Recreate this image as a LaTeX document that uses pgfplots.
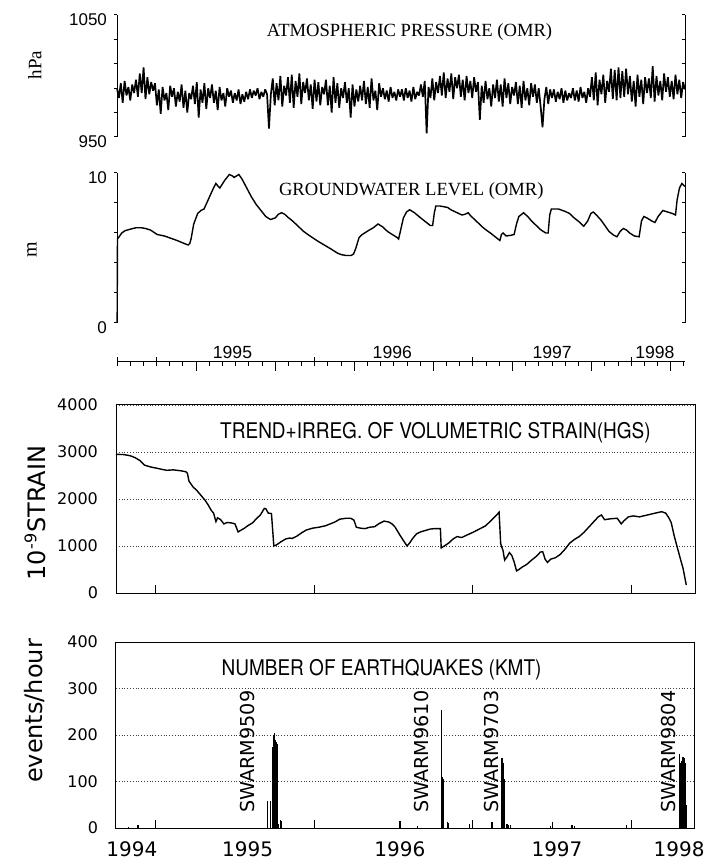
\documentclass[border=0pt]{standalone}
\usepackage{fontspec}
\setmainfont{DejaVu Sans}
\newfontfamily\serifF{Liberation Serif}
\newfontfamily\helvF{Liberation Sans}
\newfontfamily\herosF{TeX Gyre Heros}
\usepackage{graphicx}
\usepackage{pgfplots}
\pgfplotsset{compat=1.18}
\pgfplotsset{
  toppos/.style={anchor=south west, scale only axis, width=284pt, clip=false,
    /pgf/number format/assume math mode=true,
    axis x line=none, tick style={line width=0.5pt, black},
    y axis line style={-, line width=0.5pt}},
  botpos/.style={anchor=south west, scale only axis, width=289.5pt, clip=false,
    /pgf/number format/assume math mode=true,
    xmin=1994.75, xmax=1998.40, xtick={1995,1996,1997,1998}, xticklabels={},
    xtick pos=left, tick align=inside, major tick length=4.2pt,
    tick style={line width=0.5pt, black}, ytick style={draw=none},
    axis line style={line width=0.5pt}, ymajorgrids,
    grid style={densely dotted, line width=0.35pt, black!75},
    yticklabel style={font=\fontsize{8}{9}\selectfont, xshift=-5.5pt}},
}
\newcommand{\condtitle}[1]{\scalebox{0.88}[1]{\herosF\fontsize{10.8}{12}\selectfont #1}}
\begin{document}
\begin{tikzpicture}
\useasboundingbox (0,0) rectangle (353.5pt,432pt);

% ---------------- Panel 1: atmospheric pressure
\begin{axis}[toppos, at={(58.5pt,363.5pt)}, height=61pt,
  xmin=0, xmax=299, ymin=950, ymax=1050, axis y line*=left,
  ytick={950,970,990,1010,1030,1050}, yticklabels={950,,,,,1050},
  tick align=outside, major tick length=1.5pt,
  yticklabel style={font=\helvF\fontsize{8.5}{10}\selectfont, yshift=-2.5pt}]
\addplot[black, line width=0.85pt, line join=bevel] table[x expr=\coordindex, y index=0, header=false, row sep=\\] {
990\\982\\994\\978\\996\\984\\991\\980\\993\\986\\
997\\983\\1002\\986\\1007\\981\\999\\985\\995\\988\\
994\\976\\989\\969\\991\\980\\986\\972\\992\\983\\
990\\975\\987\\979\\993\\974\\988\\970\\986\\981\\
992\\977\\995\\966\\989\\978\\994\\973\\990\\982\\
993\\978\\988\\972\\991\\980\\986\\975\\990\\983\\
988\\978\\986\\980\\989\\977\\985\\979\\987\\981\\
989\\982\\988\\984\\990\\981\\987\\983\\989\\985\\
957\\985\\998\\976\\994\\980\\1000\\975\\992\\984\\
999\\978\\1001\\974\\996\\983\\1002\\977\\995\\986\\
998\\980\\993\\973\\997\\979\\995\\976\\991\\985\\
997\\976\\992\\970\\999\\978\\994\\974\\990\\982\\
995\\978\\990\\966\\993\\975\\989\\979\\992\\980\\
996\\977\\991\\974\\998\\980\\988\\972\\994\\983\\
990\\981\\988\\979\\991\\982\\987\\980\\989\\983\\
989\\980\\990\\982\\988\\979\\991\\981\\987\\984\\
993\\983\\996\\953\\991\\982\\998\\980\\995\\986\\
1000\\984\\1003\\982\\998\\987\\1002\\981\\999\\990\\
1001\\983\\997\\980\\1000\\986\\996\\982\\999\\987\\
995\\964\\992\\978\\996\\981\\990\\975\\993\\982\\
997\\979\\993\\975\\998\\982\\994\\977\\991\\984\\
995\\977\\992\\974\\996\\980\\990\\976\\994\\983\\
993\\978\\990\\975\\958\\981\\991\\977\\989\\982\\
989\\979\\987\\981\\990\\978\\988\\980\\986\\982\\
990\\980\\988\\979\\991\\982\\987\\978\\990\\983\\
999\\980\\1003\\976\\997\\985\\1001\\978\\996\\987\\
1006\\981\\1005\\980\\1007\\982\\1004\\983\\1006\\985\\
1000\\979\\996\\975\\1001\\983\\997\\977\\999\\986\\
998\\982\\1008\\979\\1000\\984\\996\\980\\1002\\987\\
999\\983\\996\\981\\1001\\985\\997\\982\\995\\989\\
};
\node[font=\serifF\fontsize{9.3}{11}\selectfont] at (axis cs:154,1036) {ATMOSPHERIC PRESSURE (OMR)};
\end{axis}
\begin{axis}[toppos, at={(58.5pt,363.5pt)}, height=61pt,
  xmin=0, xmax=299, ymin=950, ymax=1050, axis y line*=right,
  ytick={950,970,990,1010,1030,1050}, yticklabels={},
  tick align=inside, major tick length=1.7pt]
\end{axis}
\node[rotate=90, font=\serifF\fontsize{9.5}{11}\selectfont] at (17.5pt,399.5pt) {hPa};

% ---------------- Panel 2: groundwater level
\begin{axis}[toppos, at={(58.5pt,270.5pt)}, height=75pt,
  xmin=1994.75, xmax=1998.34, ymin=0, ymax=10, axis y line*=left,
  ytick={0,2,4,6,8,10}, yticklabels={0,,,,,10},
  tick align=outside, major tick length=1.5pt,
  yticklabel style={font=\helvF\fontsize{8.5}{10}\selectfont, yshift=-2.5pt}]
\addplot[black, line width=0.7pt] coordinates {
(1994.751,0)(1994.753,5.6)(1994.76,5.7)(1994.78,6.0)(1994.80,6.15)(1994.833,6.25)(1994.87,6.35)(1994.904,6.35)(1994.93,6.3)(1994.961,6.2)(1995.004,5.9)(1995.05,5.8)(1995.09,5.65)(1995.13,5.5)(1995.175,5.3)(1995.20,5.2)(1995.21,5.3)(1995.218,5.6)(1995.235,6.6)(1995.26,7.3)(1995.28,7.5)(1995.30,7.6)(1995.33,8.3)(1995.36,9.0)(1995.375,9.3)(1995.39,9.1)(1995.40,9.0)(1995.43,9.5)(1995.46,9.9)(1995.48,9.8)(1995.49,9.7)(1995.52,9.9)(1995.54,9.6)(1995.57,9.0)(1995.60,8.4)(1995.63,7.9)(1995.66,7.5)(1995.69,7.1)(1995.72,6.9)(1995.75,7.0)(1995.77,7.25)(1995.79,7.35)(1995.81,7.25)(1995.83,7.05)(1995.86,6.8)(1995.89,6.5)(1995.93,6.1)(1995.97,5.8)(1996.02,5.45)(1996.06,5.2)(1996.10,4.95)(1996.145,4.65)(1996.17,4.55)(1996.20,4.5)(1996.23,4.5)(1996.245,4.6)(1996.26,5.0)(1996.28,5.7)(1996.30,5.9)(1996.345,6.2)(1996.37,6.35)(1996.40,6.6)(1996.43,6.4)(1996.46,6.1)(1996.49,5.9)(1996.52,5.7)(1996.53,5.6)(1996.545,6.3)(1996.56,7.0)(1996.58,7.4)(1996.60,7.55)(1996.63,7.35)(1996.67,7.0)(1996.70,6.75)(1996.73,6.5)(1996.745,6.5)(1996.755,7.3)(1996.765,7.8)(1996.79,7.8)(1996.817,7.75)(1996.84,7.7)(1996.86,7.55)(1996.90,7.35)(1996.93,7.2)(1996.95,7.25)(1996.97,7.35)(1996.985,7.15)(1997.00,7.0)(1997.03,6.7)(1997.07,6.3)(1997.11,6.0)(1997.14,5.75)(1997.17,5.5)(1997.18,5.9)(1997.19,6.0)(1997.21,5.8)(1997.24,5.85)(1997.26,5.9)(1997.275,6.6)(1997.29,7.1)(1997.32,7.35)(1997.35,7.05)(1997.37,6.8)(1997.40,6.5)(1997.43,6.2)(1997.46,6.0)(1997.475,6.0)(1997.485,7.2)(1997.495,7.6)(1997.52,7.6)(1997.54,7.6)(1997.58,7.45)(1997.61,7.3)(1997.64,7.0)(1997.67,6.75)(1997.70,6.45)(1997.725,6.8)(1997.745,7.3)(1997.76,7.4)(1997.78,7.2)(1997.81,6.85)(1997.84,6.4)(1997.86,6.1)(1997.89,5.85)(1997.91,5.75)(1997.93,6.1)(1997.95,6.3)(1997.97,6.2)(1997.99,6.0)(1998.02,5.8)(1998.05,5.75)(1998.065,6.8)(1998.08,7.1)(1998.10,7.0)(1998.13,6.8)(1998.15,6.7)(1998.17,7.1)(1998.20,7.5)(1998.23,7.4)(1998.26,7.3)(1998.28,7.2)(1998.29,8.2)(1998.305,9.0)(1998.32,9.3)(1998.33,9.2)(1998.34,9.1)
};
\node[font=\serifF\fontsize{9.3}{11}\selectfont] at (axis cs:1996.61,8.8) {GROUNDWATER LEVEL (OMR)};
\end{axis}
\begin{axis}[toppos, at={(58.5pt,270.5pt)}, height=75pt,
  xmin=1994.75, xmax=1998.34, ymin=0, ymax=10, axis y line*=right,
  ytick={0,2,4,6,8,10}, yticklabels={},
  tick align=inside, major tick length=1.7pt]
\end{axis}
\node[rotate=90, font=\serifF\fontsize{10}{12}\selectfont] at (16pt,307pt) {m};

% ---------------- time axis of the two upper panels
\begin{axis}[anchor=south west, at={(58.5pt,251pt)}, scale only axis, width=284pt, height=10pt,
  clip=false, xmin=1994.75, xmax=1998.34, ymin=0, ymax=1,
  axis y line=none, axis x line*=bottom, x axis line style={-, line width=0.5pt},
  xtick={1994.75,1995,1996,1997,1998}, xticklabels={},
  tick align=center, major tick length=4.5pt, tick style={line width=0.5pt, black}]
\node[font=\helvF\fontsize{8.8}{10}\selectfont, anchor=base] at (axis cs:1995.48,0) [yshift=1.6pt] {1995};
\node[font=\helvF\fontsize{8.8}{10}\selectfont, anchor=base] at (axis cs:1996.49,0) [yshift=1.6pt] {1996};
\node[font=\helvF\fontsize{8.8}{10}\selectfont, anchor=base] at (axis cs:1997.50,0) [yshift=1.6pt] {1997};
\node[font=\helvF\fontsize{8.8}{10}\selectfont, anchor=base] at (axis cs:1998.15,0) [yshift=1.6pt] {1998};
\end{axis}
\begin{axis}[anchor=south west, at={(58.5pt,251pt)}, scale only axis, width=284pt, height=10pt,
  clip=false, xmin=1994.75, xmax=1998.34, ymin=0, ymax=1,
  axis y line=none, axis x line*=bottom, x axis line style={-, line width=0.5pt},
  xtick={1995.25,1995.75,1996.25,1996.75,1997.25,1997.75,1998.25}, xticklabels={},
  minor xtick={1994.8333,1994.9167,1995.0833,1995.1667,1995.3333,1995.4167,1995.5,1995.5833,1995.6667,1995.8333,1995.9167,
    1996.0833,1996.1667,1996.3333,1996.4167,1996.5,1996.5833,1996.6667,1996.8333,1996.9167,
    1997.0833,1997.1667,1997.3333,1997.4167,1997.5,1997.5833,1997.6667,1997.8333,1997.9167,
    1998.0833,1998.1667,1998.3333},
  tick align=outside, major tick length=4.5pt, minor tick length=2pt,
  tick style={line width=0.5pt, black}]
\end{axis}

% ---------------- Panel 3: volumetric strain
\begin{axis}[botpos, at={(58pt,135.5pt)}, height=94pt,
  ymin=0, ymax=4000, ytick={0,1000,2000,3000,4000}, yticklabels={0,1000,2000,3000,4000}]
\addplot[black, line width=0.7pt] coordinates {
(1994.750,2950)(1994.80,2945)(1994.84,2920)(1994.87,2880)(1994.90,2820)(1994.93,2720)(1994.97,2680)(1995.00,2660)(1995.04,2630)(1995.07,2610)(1995.11,2620)(1995.16,2600)(1995.19,2580)(1995.20,2550)(1995.21,2380)(1995.235,2260)(1995.26,2180)(1995.28,2100)(1995.31,1980)(1995.33,1880)(1995.35,1760)(1995.365,1700)(1995.38,1520)(1995.39,1600)(1995.41,1560)(1995.43,1470)(1995.45,1500)(1995.48,1490)(1995.50,1470)(1995.52,1300)(1995.535,1330)(1995.56,1380)(1995.58,1430)(1995.61,1490)(1995.635,1580)(1995.66,1660)(1995.685,1800)(1995.695,1790)(1995.71,1700)(1995.73,1690)(1995.745,1000)(1995.76,1020)(1995.79,1090)(1995.82,1150)(1995.845,1170)(1995.86,1160)(1995.89,1210)(1995.92,1280)(1995.95,1340)(1995.99,1380)(1996.03,1400)(1996.07,1430)(1996.10,1470)(1996.13,1510)(1996.16,1570)(1996.20,1590)(1996.23,1590)(1996.25,1550)(1996.265,1400)(1996.29,1380)(1996.32,1370)(1996.35,1400)(1996.38,1410)(1996.41,1480)(1996.44,1530)(1996.47,1510)(1996.49,1470)(1996.51,1400)(1996.54,1230)(1996.565,1100)(1996.585,1000)(1996.60,1060)(1996.62,1160)(1996.645,1260)(1996.67,1300)(1996.70,1330)(1996.73,1360)(1996.76,1370)(1996.795,1370)(1996.80,960)(1996.82,1000)(1996.85,1070)(1996.875,1150)(1996.90,1200)(1996.93,1180)(1996.96,1230)(1997.00,1290)(1997.04,1360)(1997.08,1430)(1997.12,1560)(1997.15,1660)(1997.165,1720)(1997.175,1050)(1997.19,900)(1997.20,700)(1997.215,770)(1997.23,860)(1997.245,800)(1997.26,660)(1997.275,470)(1997.29,500)(1997.31,550)(1997.34,610)(1997.37,700)(1997.40,780)(1997.425,870)(1997.44,880)(1997.455,720)(1997.47,650)(1997.49,720)(1997.52,750)(1997.55,820)(1997.58,930)(1997.61,1060)(1997.64,1140)(1997.67,1200)(1997.70,1290)(1997.73,1400)(1997.76,1510)(1997.79,1620)(1997.81,1660)(1997.83,1560)(1997.87,1580)(1997.91,1590)(1997.935,1470)(1997.95,1530)(1997.98,1620)(1998.01,1640)(1998.05,1620)(1998.10,1660)(1998.15,1700)(1998.19,1730)(1998.215,1700)(1998.235,1600)(1998.25,1500)(1998.27,1200)(1998.29,950)(1998.31,700)(1998.325,520)(1998.345,170)
};
\node at (axis cs:1996.764,3404) {\condtitle{TREND+IRREG. OF VOLUMETRIC STRAIN(HGS)}};
\end{axis}
\node[rotate=90, font=\fontsize{12}{14}\selectfont] at (17.5pt,175.5pt) {10\textsuperscript{-9}STRAIN};

% ---------------- Panel 4: number of earthquakes
\begin{axis}[botpos, at={(58pt,18pt)}, height=93pt,
  ymin=0, ymax=400, ytick={0,100,200,300,400}, yticklabels={0,100,200,300,400},
  extra x ticks={1994.85,1995.58,1996.54,1997.53,1998.30},
  extra x tick labels={1994,1995,1996,1997,1998},
  extra x tick style={major tick length=0pt, grid=none},
  xticklabel style={font=\fontsize{10}{12}\selectfont, yshift=-3.5pt}]
\addplot[ycomb, mark=none, black, line width=0.6pt] coordinates {
(1994.83,3)(1994.885,7)(1994.89,6)
(1995.705,57)(1995.724,57)(1995.740,175)(1995.745,200)(1995.750,205)(1995.755,190)(1995.760,185)(1995.765,180)(1995.775,8)(1995.785,18)(1995.795,15)
(1996.54,14)(1996.65,5)
(1996.800,253)(1996.804,250)(1996.810,110)(1996.815,105)(1996.840,12)(1996.845,10)
(1996.98,8)(1997.12,13)
(1997.183,150)(1997.188,145)(1997.193,140)(1997.198,105)(1997.215,8)(1997.225,6)(1997.235,7)
(1997.49,4)(1997.50,12)(1997.625,6)(1997.64,5)(1997.97,6)
(1998.300,160)(1998.304,150)(1998.308,140)(1998.312,135)(1998.316,145)(1998.320,150)(1998.324,152)(1998.328,148)(1998.333,150)(1998.338,140)(1998.343,50)(1998.348,45)
};
\node at (axis cs:1996.424,340) {\condtitle{NUMBER OF EARTHQUAKES (KMT)}};
\node[rotate=90, anchor=west, inner sep=0pt, font=\fontsize{9.6}{11}\selectfont] at (axis cs:1995.577,32) {SWARM9509};
\node[rotate=90, anchor=west, inner sep=0pt, font=\fontsize{9.6}{11}\selectfont] at (axis cs:1996.676,32) {SWARM9610};
\node[rotate=90, anchor=west, inner sep=0pt, font=\fontsize{9.6}{11}\selectfont] at (axis cs:1997.117,32) {SWARM9703};
\node[rotate=90, anchor=west, inner sep=0pt, font=\fontsize{9.6}{11}\selectfont] at (axis cs:1998.232,32) {SWARM9804};
\end{axis}
\node[rotate=90, font=\fontsize{12}{14}\selectfont] at (17pt,76.5pt) {events/hour};

\end{tikzpicture}
\end{document}
